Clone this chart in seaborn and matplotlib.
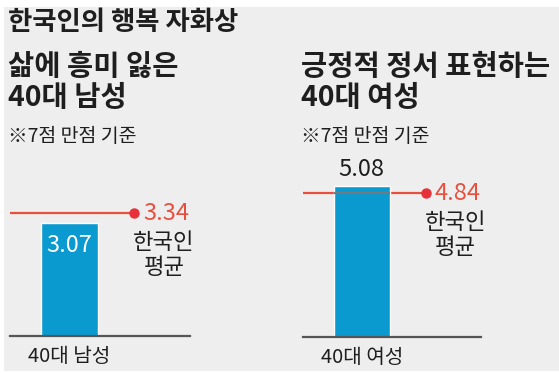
import matplotlib
matplotlib.use("Agg")
import matplotlib.pyplot as plt
from matplotlib.patches import Rectangle
import seaborn as sns

# data
groups = ["40대 남성", "40대 여성"]
values = [3.07, 5.08]
averages = [3.34, 4.84]
avg_label = "한국인\n평균"
main_title = "한국인의 행복 자화상"
panel_titles = [("삶에 흥미 잃은", "40대 남성"), ("긍정적 정서 표현하는", "40대 여성")]
note = "※7점 만점 기준"
ymax = [4, 6]

W, H = 559, 373
BLUE = "#0a9ad0"
RED = "#e8503e"
DOT = "#e8303a"
TXT = "#1e1e1e"

sns.set_theme(style="white")
plt.rcParams['font.family'] = ['Noto Sans CJK KR', 'DejaVu Sans']

fig = plt.figure(figsize=(W / 100, H / 100), dpi=100)
fig.patch.set_facecolor("white")
fig.patches.append(Rectangle((4 / W, 2 / H), 1, (371 - 7) / H, transform=fig.transFigure,
                             facecolor="#eeeeee", edgecolor="none", zorder=-10))


def px(x, y):
    return x / W, 1 - y / H


fig.text(*px(8, 22), main_title, fontsize=19, fontweight="bold", color=TXT, va="center", ha="left")

# axes boxes in pixels: left, baseline, width, px per unit
boxes = [(10, 336, 180, 36.8), (303, 337, 178, 29.7)]
title_x = [8, 301]

for i in range(2):
    x0, base, w, scale = boxes[i]
    h = ymax[i] * scale
    ax = fig.add_axes([x0 / W, (H - base) / H, w / W, h / H])
    ax.set_facecolor("none")
    sns.barplot(x=[groups[i]], y=[values[i]], color=BLUE, saturation=1, width=0.8, ax=ax, zorder=2)
    ax.set_xlim(-0.833, 1.691)
    ax.set_ylim(0, ymax[i])
    for s in ["top", "right", "left"]:
        ax.spines[s].set_visible(False)
    ax.spines["bottom"].set_color("#555555")
    ax.spines["bottom"].set_linewidth(1.6)
    ax.set_yticks([])
    ax.set_xlabel("")
    ax.set_ylabel("")
    ax.tick_params(axis="x", length=0, pad=7, labelsize=14.5, labelcolor=TXT)

    # average line and dot
    yt = ax.get_yaxis_transform()
    ax.plot([0, 0.69], [averages[i], averages[i]], color=RED, lw=1.6, transform=yt, zorder=1)
    ax.plot([0.69], [averages[i]], "o", color=DOT, ms=6.5, transform=yt, zorder=4, clip_on=False)
    bar = ax.patches[0]
    bx0, bx1 = bar.get_x(), bar.get_x() + bar.get_width()
    if averages[i] < values[i]:
        ax.hlines(averages[i], bx0, bx1, color="#6f7a82", lw=1.6, zorder=3)
    ax.text(0.74, averages[i], f"{averages[i]:.2f}", transform=yt, color=RED, fontsize=17,
            ha="left", va="center", fontweight="medium")
    ax.annotate(avg_label, xy=(0.855, averages[i]), xycoords=yt, xytext=(0, -30),
                textcoords="offset points", ha="center", va="center", fontsize=16,
                linespacing=1.1, color=TXT)

    # value label
    cx = bx0 + bar.get_width() / 2
    if i == 0:
        ax.annotate(f"{values[i]:.2f}", xy=(cx, values[i]), xytext=(0, -16), textcoords="offset points",
                    ha="center", va="center", fontsize=17, color="white")
    else:
        ax.annotate(f"{values[i]:.2f}", xy=(cx, values[i]), xytext=(0, 12), textcoords="offset points",
                    ha="center", va="center", fontsize=17, color=TXT)

    t1, t2 = panel_titles[i]
    fig.text(*px(title_x[i], 67), t1, fontsize=20.5, fontweight="bold", color=TXT, va="center", ha="left")
    fig.text(*px(title_x[i], 98), t2, fontsize=20.5, fontweight="bold", color=TXT, va="center", ha="left")
    fig.text(*px(title_x[i], 136), note, fontsize=14, color=TXT, va="center", ha="left")

plt.savefig("out.png", dpi=100)
